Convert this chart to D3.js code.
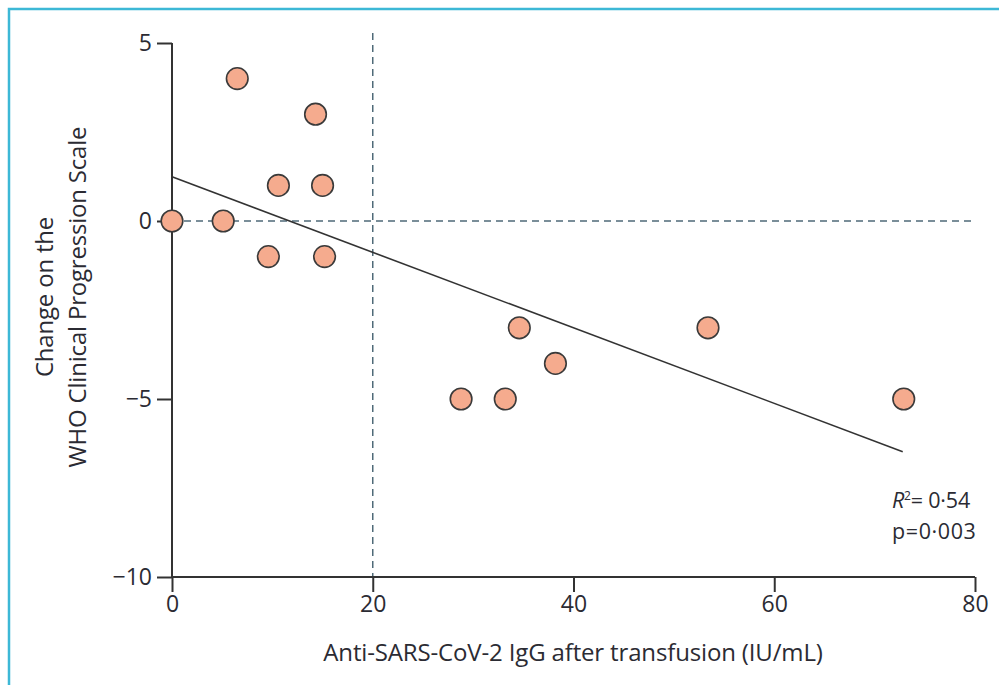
<!DOCTYPE html>
<html><head><meta charset="utf-8">
<script src="https://cdn.jsdelivr.net/npm/d3@7"></script>
<style>
html,body{margin:0;padding:0;background:#fff;}
svg{display:block;}
text{font-family:"Open Sans","Noto Sans",sans-serif;fill:#2b2b33;}
</style></head>
<body><svg id="c" width="999" height="685"></svg>
<script>
const antibodyIU = [0, 5.1, 6.5, 9.6, 10.6, 14.3, 15.0, 15.2, 28.8, 33.2, 34.6, 38.2, 53.4, 72.9];
const whoChange  = [0, 0, 4, -1, 1, 3, 1, -1, -5, -5, -3, -4, -3, -5];
const xTicks = [0, 20, 40, 60, 80];
const yTicks = [-10, -5, 0, 5];
const fitX = [0, 72.8];
const fitY = [1.24, -6.48];
const refX = [20];
const refY = [0];
const statLines = ["R²", "= 0·54", "p=0·003"];

const svg = d3.select("#c");
const x = d3.scaleLinear().domain([0, 80]).range([172, 975]);
const y = d3.scaleLinear().domain([-10, 5]).range([577, 43]);

// frame
svg.append("path").attr("d","M9,690 L9,9 L1005,9").attr("fill","none")
  .attr("stroke","#3db8d6").attr("stroke-width",2.5);

// reference dashed lines
svg.selectAll(".hr").data(refY).enter().append("line")
  .attr("x1", x(0)).attr("x2", x(80)).attr("y1", d=>y(d)).attr("y2", d=>y(d))
  .attr("stroke","#4f6a78").attr("stroke-width",1.5).attr("stroke-dasharray","7,5");
svg.selectAll(".vr").data(refX).enter().append("line")
  .attr("x1", d=>x(d)).attr("x2", d=>x(d)).attr("y1", 33).attr("y2", y(-10))
  .attr("stroke","#4f6a78").attr("stroke-width",1.5).attr("stroke-dasharray","7,5");

// axes
const gx = svg.append("g").attr("transform",`translate(0,${y(-10)})`)
  .call(d3.axisBottom(x).tickValues(xTicks).tickSize(15).tickPadding(4).tickFormat(d3.format("d")));
const gy = svg.append("g").attr("transform",`translate(${x(0)},0)`)
  .call(d3.axisLeft(y).tickValues(yTicks).tickSize(15).tickPadding(5).tickFormat(d=> d<0 ? "\u2212"+Math.abs(d) : d));
[gx, gy].forEach(g=>{
  g.select(".domain").attr("stroke","#333").attr("stroke-width",2);
  g.selectAll(".tick line").attr("stroke","#333").attr("stroke-width",2);
  g.selectAll(".tick text").attr("font-size",23).attr("fill","#2b2b33")
    .attr("font-family","'Open Sans','Noto Sans',sans-serif");
});
gx.select(".domain").attr("d",`M${x(0)},0H${x(80)}`);
gy.select(".domain").attr("d",`M0,${y(5)}V${y(-10)}`);

// fit line
svg.append("line")
  .attr("x1", x(fitX[0])).attr("y1", y(fitY[0]))
  .attr("x2", x(fitX[1])).attr("y2", y(fitY[1]))
  .attr("stroke","#333").attr("stroke-width",1.6);

// points
svg.selectAll(".pt").data(antibodyIU.map((v,i)=>[v, whoChange[i]])).enter().append("circle")
  .attr("cx", d=>x(d[0])).attr("cy", d=>y(d[1])).attr("r", 10.8)
  .attr("fill","#f5ab8e").attr("stroke","#3a3a3a").attr("stroke-width",1.6);

// axis titles
svg.append("text").attr("x", 573).attr("y", 661).attr("text-anchor","middle")
  .attr("font-size",24).attr("letter-spacing","-0.15")
  .text("Anti-SARS-CoV-2 IgG after transfusion (IU/mL)");
const yl = svg.append("text").attr("transform","translate(0,297) rotate(-90)")
  .attr("text-anchor","middle").attr("font-size",24).attr("letter-spacing","-0.2");
yl.append("tspan").attr("x",0).attr("y",53).text("Change on the");
yl.append("tspan").attr("x",0).attr("y",86).text("WHO Clinical Progression Scale");

// stats
const s1 = svg.append("text").attr("x", 892).attr("y", 508).attr("font-size",21.5).attr("letter-spacing","-0.2");
s1.append("tspan").attr("font-style","italic").text("R");
s1.append("tspan").attr("font-size",12).attr("dy",-8).text("2");
s1.append("tspan").attr("dy",8).text(statLines[1]);
svg.append("text").attr("x", 892).attr("y", 539).attr("font-size",21.5).attr("letter-spacing","0.6").text(statLines[2]);
</script></body></html>
